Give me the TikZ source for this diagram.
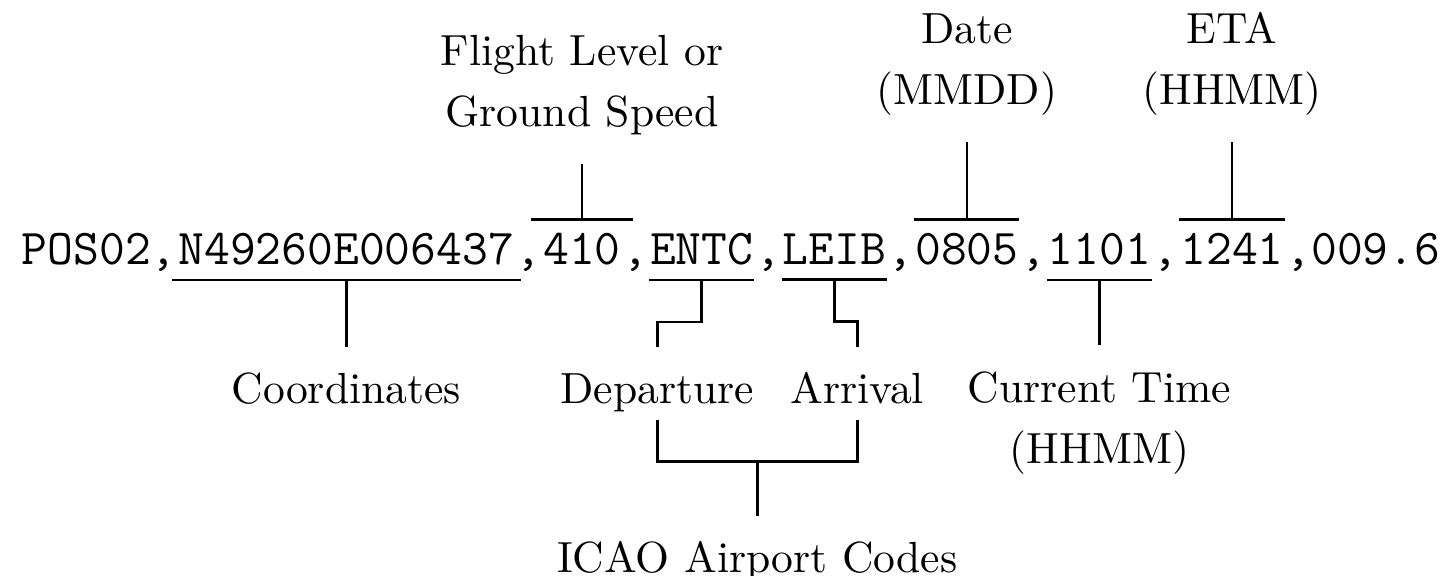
\documentclass[tikz,border=0pt]{standalone}
\usepackage{tikz}
\usetikzlibrary{positioning, calc}
\newcommand{\msgfont}{\fontsize{11.5}{13}\selectfont\ttfamily}
\newcommand{\lblfont}{\fontsize{10}{14.1}\selectfont}
\tikzset{
    msg/.style={font=\msgfont, inner sep=0pt, anchor=base west},
    field/.style={msg, inner ysep=3.1pt},
    lbl/.style={font=\lblfont, inner sep=0pt, align=center, text depth=0pt},
    bar/.style={draw, line width=0.6pt}
}
\begin{document}
\begin{tikzpicture}[x=0.2294pt, y=0.2294pt]
    \useasboundingbox (0,0) rectangle (1448,576);

    % the message itself
    \node[msg] (pos) at (21,311) {POS02,};
    \node[field] (coord) at (pos.base east) {N49260E006437};
    \node[msg] (s1) at (coord.base east) {,};
    \node[field] (flvl) at (s1.base east) {410};
    \node[msg] (s2) at (flvl.base east) {,};
    \node[field] (entc) at (s2.base east) {ENTC};
    \node[msg] (s3) at (entc.base east) {,};
    \node[field] (leib) at (s3.base east) {LEIB};
    \node[msg] (s4) at (leib.base east) {,};
    \node[field] (date) at (s4.base east) {0805};
    \node[msg] (s5) at (date.base east) {,};
    \node[field] (now) at (s5.base east) {1101};
    \node[msg] (s6) at (now.base east) {,};
    \node[field] (eta) at (s6.base east) {1241};
    \node[msg] (rest) at (eta.base east) {,009.6};

    % fields below the line
    \draw[bar] ([xshift=-1.3pt]coord.south west) -- ([xshift=1.3pt]coord.south east);
    \coordinate[below=15.4pt of coord.south] (coordEnd);
    \draw[bar] (coord.south) -- (coordEnd);
    \node[lbl, below=5.8pt of coordEnd] (coordLbl) {Coordinates};

    \draw[bar] (entc.south west) -- (entc.south east);
    \coordinate[below=15.4pt of entc.south, xshift=-10.2pt] (depEnd);
    \draw[bar] (entc.south) -- ++(0,-9.6pt) -| (depEnd);
    \node[lbl, below=5.8pt of depEnd] (dep) {Departure};

    \draw[bar] (leib.south west) -- (leib.south east);
    \coordinate[below=15.4pt of leib.south, xshift=5.3pt] (arrEnd);
    \draw[bar] (leib.south) -- ++(0,-9.6pt) -| (arrEnd);
    \node[lbl, below=5.8pt of arrEnd] (arr) {Arrival};

    \coordinate (icaoJoin) at ($(dep.south)!0.5!(arr.south) + (0,-13.1pt)$);
    \draw[bar] ([yshift=-3.6pt]dep.south) |- (icaoJoin) -| ([yshift=-3.6pt]arr.south);
    \coordinate[below=12.5pt of icaoJoin] (icaoEnd);
    \draw[bar] (icaoJoin) -- (icaoEnd);
    \node[lbl, below=5.6pt of icaoEnd] (icao) {ICAO Airport Codes};

    \draw[bar] (now.south west) -- (now.south east);
    \coordinate[below=15pt of now.south] (nowEnd);
    \draw[bar] (now.south) -- (nowEnd);
    \node[lbl, below=5.8pt of nowEnd] (nowLbl) {Current Time\\(HHMM)};

    % fields above the line
    \draw[bar] ([xshift=-2.7pt]flvl.north west) -- ([xshift=2.7pt]flvl.north east);
    \coordinate[above=12.6pt of flvl.north] (flvlEnd);
    \draw[bar] (flvl.north) -- (flvlEnd);
    \node[lbl, above=8.4pt of flvlEnd] (flvlLbl) {Flight Level or\\Ground Speed};

    \draw[bar] (date.north west) -- (date.north east);
    \coordinate[above=17.7pt of date.north] (dateEnd);
    \draw[bar] (date.north) -- (dateEnd);
    \node[lbl, above=8.4pt of dateEnd] (dateLbl) {Date\\(MMDD)};

    \draw[bar] (eta.north west) -- (eta.north east);
    \coordinate[above=17.7pt of eta.north] (etaEnd);
    \draw[bar] (eta.north) -- (etaEnd);
    \node[lbl, above=8.4pt of etaEnd] (etaLbl) {ETA\\(HHMM)};
\end{tikzpicture}
\end{document}
